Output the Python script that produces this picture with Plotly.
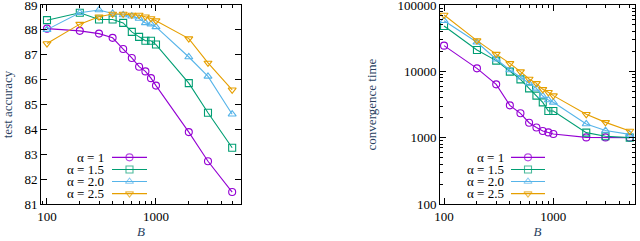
import plotly.graph_objects as go

W, H = 640, 241

B = [100, 200, 300, 400, 500, 600, 700, 800, 900, 1000, 2000, 3000, 5000]

acc_a1 = [88.05, 87.96, 87.85, 87.68, 87.23, 86.87, 86.52, 86.33, 86.06, 85.76, 83.89, 82.72, 81.48]
acc_a15 = [88.39, 88.69, 88.42, 88.42, 88.28, 87.92, 87.72, 87.56, 87.56, 87.41, 85.86, 84.67, 83.26]
acc_a20 = [88.01, 88.69, 88.80, 88.66, 88.60, 88.55, 88.46, 88.28, 88.23, 88.12, 86.91, 86.13, 84.61]
acc_a25 = [87.45, 88.23, 88.53, 88.64, 88.64, 88.60, 88.60, 88.53, 88.46, 88.37, 87.65, 86.67, 85.59]

time_a1 = [24400, 11100, 6370, 3070, 2330, 1680, 1420, 1260, 1200, 1135, 1010, 1010, 1000]
time_a15 = [48200, 21000, 14500, 9890, 7570, 5540, 4300, 3410, 2530, 2530, 1190, 1050, 1000]
time_a20 = [58000, 27400, 15200, 10470, 8130, 6600, 5540, 4250, 3700, 3410, 1610, 1280, 1120]
time_a25 = [70700, 29000, 18200, 13200, 9890, 7660, 6590, 5350, 4830, 4300, 2250, 1700, 1260]

acc_ticks = [81, 82, 83, 84, 85, 86, 87, 88, 89]
time_ticks = [100, 1000, 10000, 100000]
B_ticks = [100, 1000]

labels = ["α = 1", "α = 1.5", "α = 2.0", "α = 2.5"]
colors = ["#9400d3", "#009e73", "#56b4e9", "#e69f00"]
symbols = ["circle-open", "square-open", "triangle-up-open", "triangle-down-open"]

acc = [acc_a1, acc_a15, acc_a20, acc_a25]
times = [time_a1, time_a15, time_a20, time_a25]

FONT = "Liberation Serif"
FS = 13

fig = go.Figure()

for i in range(4):
    common = dict(mode="lines+markers",
                  line=dict(color=colors[i], width=1.1),
                  marker=dict(symbol=symbols[i], size=7, color=colors[i],
                              line=dict(width=1.1, color=colors[i])),
                  showlegend=False, cliponaxis=False)
    fig.add_trace(go.Scatter(x=B, y=acc[i], xaxis="x", yaxis="y", **common))
    fig.add_trace(go.Scatter(x=B, y=times[i], xaxis="x2", yaxis="y2", **common))

# custom gnuplot-style keys (text left, sample right), pixel coordinates on an overlay axis
key_rows = [155, 167.7, 180.4, 193.1]
keys = [dict(text_right=106, l0=112, l1=147), dict(text_right=506, l0=511, l1=545)]
for k in keys:
    for i in range(4):
        y = key_rows[i]
        fig.add_trace(go.Scatter(
            x=[k["l0"], (k["l0"] + k["l1"]) / 2, k["l1"]], y=[y, y, y],
            xaxis="x3", yaxis="y3", mode="lines+markers",
            line=dict(color=colors[i], width=1.1),
            marker=dict(symbol=symbols[i], size=[0, 7, 0], color=colors[i],
                        line=dict(width=1.1, color=colors[i])),
            showlegend=False, hoverinfo="skip"))
        fig.add_annotation(x=k["text_right"], y=y, xref="x3", yref="y3",
                           text=labels[i], showarrow=False, xanchor="right",
                           yanchor="middle", font=dict(family=FONT, size=FS, color="black"))

MT, MB = 5, 37  # plot area from y=5 to y=204

def px_x(p):
    return p / W

axis_common = dict(showline=True, linecolor="black", linewidth=1, mirror="ticks",
                   ticks="inside", ticklen=6, tickcolor="black", showgrid=False,
                   zeroline=False, tickfont=dict(family=FONT, size=FS, color="black"),
                   automargin=False, ticklabeloverflow="allow")

minor = dict(dtick="D1", ticks="inside", ticklen=3, tickcolor="black", showgrid=False)

fig.update_layout(
    width=W, height=H,
    margin=dict(l=0, r=0, t=MT, b=MB),
    paper_bgcolor="white", plot_bgcolor="rgba(0,0,0,0)",
    showlegend=False,
    xaxis=dict(domain=[px_x(41), px_x(241)], type="log", range=[1.945, 3.780],
               anchor="y", tickvals=B_ticks, ticktext=[str(v) for v in B_ticks], minor=minor,
               title=dict(text="<i>B</i>", font=dict(family=FONT, size=FS), standoff=2),
               **axis_common),
    yaxis=dict(domain=[0, 1], range=[81, 89], anchor="x", tickvals=acc_ticks,
               ticktext=[str(v) for v in acc_ticks],
               title=dict(text="test accuracy", font=dict(family=FONT, size=FS), standoff=11),
               **axis_common),
    xaxis2=dict(domain=[px_x(440), px_x(635)], type="log", range=[1.963, 3.747],
                anchor="y2", tickvals=B_ticks, ticktext=[str(v) for v in B_ticks], minor=minor,
                title=dict(text="<i>B</i>", font=dict(family=FONT, size=FS), standoff=2),
                **axis_common),
    yaxis2=dict(domain=[0, 1], type="log", range=[2, 5], anchor="x2",
                tickvals=time_ticks, ticktext=[str(v) for v in time_ticks], minor=minor,
                title=dict(text="convergence time", font=dict(family=FONT, size=FS), standoff=17),
                **axis_common),
    xaxis3=dict(domain=[0, 1], range=[0, W], visible=False, anchor="y3", fixedrange=True),
    yaxis3=dict(domain=[0, 1], range=[H - MB, -MT], visible=False, anchor="x3", fixedrange=True),
)

fig.write_html("out.html", config={"displayModeBar": False},
               post_script="document.body.style.margin='0';document.body.style.overflow='hidden';")
